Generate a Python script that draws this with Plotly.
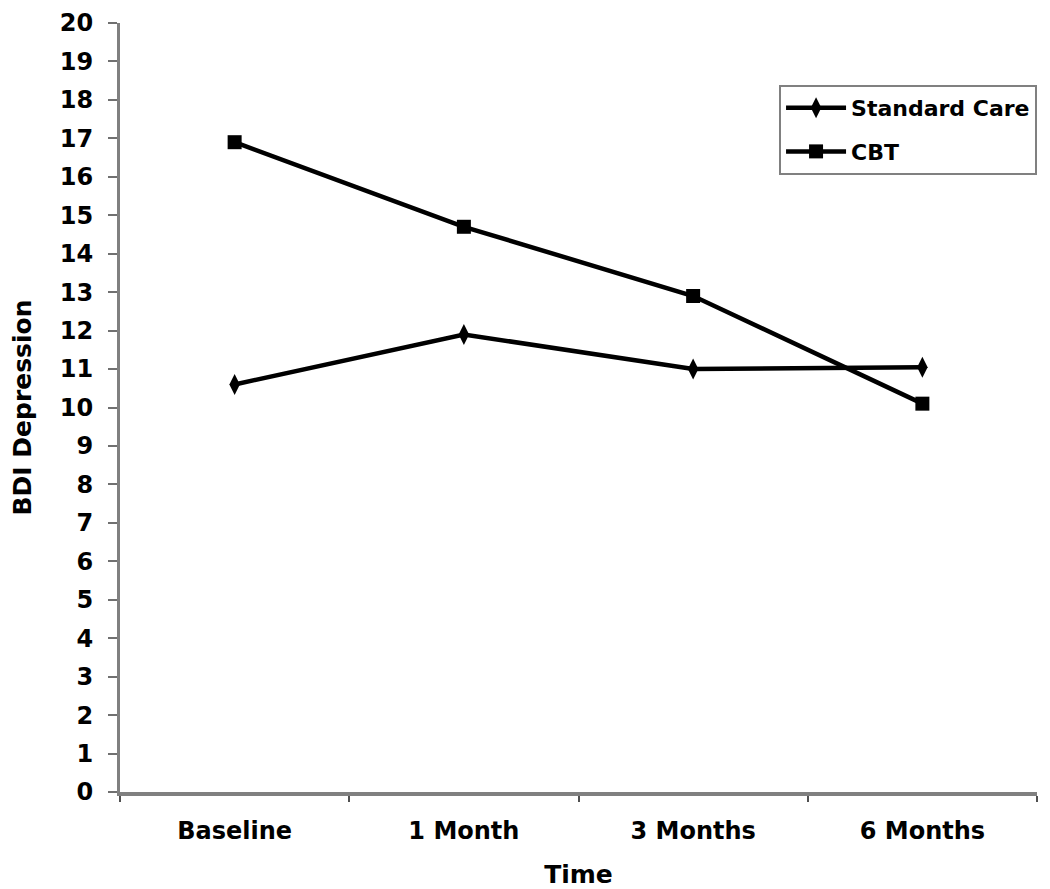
import plotly.graph_objects as go

time_points = ["Baseline", "1 Month", "3 Months", "6 Months"]
standard_care = [10.6, 11.9, 11.0, 11.05]
cbt = [16.9, 14.7, 12.9, 10.1]
y_ticks = list(range(0, 21))

FONT = "DejaVu Sans"

fig = go.Figure()
fig.add_trace(go.Scatter(
    x=time_points, y=standard_care, name="Standard Care", mode="lines+markers",
    line=dict(color="black", width=4.5),
    marker=dict(symbol="diamond-tall", size=15, color="black"),
    cliponaxis=False, legendgroup="sc",
))
fig.add_trace(go.Scatter(
    x=time_points, y=cbt, name="CBT", mode="lines+markers",
    line=dict(color="black", width=4.5),
    marker=dict(symbol="square", size=14, color="black"),
    cliponaxis=False, legendgroup="cbt",
))

fig.update_layout(
    width=1042, height=881,
    margin=dict(l=112, r=13, t=15, b=97, autoexpand=False),
    paper_bgcolor="white", plot_bgcolor="white",
    font=dict(family=FONT, color="black", weight="bold"),
    showlegend=True,
    legend=dict(
        x=0.7187, y=0.9194, xanchor="left", yanchor="top",
        bordercolor="#808080", borderwidth=2, bgcolor="white",
        font=dict(family=FONT, size=22, color="black", weight="bold"),
        tracegroupgap=12, itemwidth=60,
    ),
    xaxis=dict(
        type="category", range=[-0.5, 3.5], automargin=False,
        showline=True, linecolor="#808080", linewidth=4,
        ticks="outside", tickson="boundaries", ticklen=6, tickwidth=2, tickcolor="#505050",
        ticklabelstandoff=14, ticklabeloverflow="allow",
        tickfont=dict(family=FONT, size=24, color="black", weight="bold"),
        showgrid=False, zeroline=False,
        title=dict(text="Time", font=dict(family=FONT, size=25, color="black", weight="bold"), standoff=25),
    ),
    yaxis=dict(
        range=[0, 20], tickmode="array", tickvals=y_ticks, ticktext=[str(v) for v in y_ticks],
        automargin=False,
        showline=True, linecolor="#808080", linewidth=3,
        ticks="outside", ticklen=9, tickwidth=2, tickcolor="#707070",
        ticklabelstandoff=10, ticklabeloverflow="allow",
        tickfont=dict(family=FONT, size=24, color="black", weight="bold"),
        showgrid=False, zeroline=False,
        title=dict(text="BDI Depression", font=dict(family=FONT, size=25, color="black", weight="bold"), standoff=54),
    ),
)

fig.write_html("out.html")
